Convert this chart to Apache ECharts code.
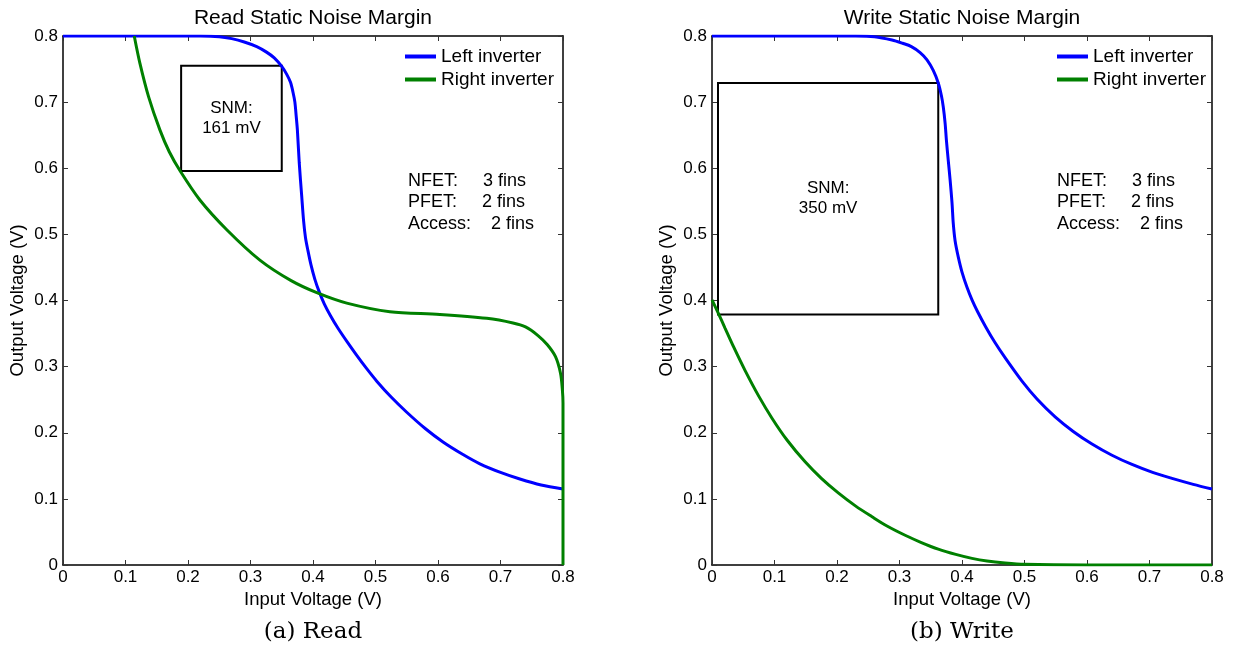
<!DOCTYPE html>
<html>
<head>
<meta charset="utf-8">
<script src="https://cdn.jsdelivr.net/npm/echarts@6/dist/echarts.min.js"></script>
<style>
  html, body { margin: 0; padding: 0; background: #fff; }
  #main { width: 1236px; height: 654px; }
</style>
</head>
<body>
<div id="main"></div>
<script>
// butterfly curves, [input V, output V]
var readLeftInv = [
  [0, 0.8], [0.22, 0.8], [0.25, 0.799], [0.27, 0.796], [0.29, 0.791], [0.31, 0.784],
  [0.325, 0.776], [0.338, 0.767], [0.35, 0.754], [0.358, 0.742], [0.364, 0.73],
  [0.368, 0.715], [0.371, 0.7], [0.373, 0.68], [0.375, 0.658], [0.378, 0.608],
  [0.382, 0.557], [0.385, 0.52], [0.388, 0.495], [0.392, 0.475], [0.397, 0.453],
  [0.403, 0.432], [0.41, 0.413], [0.418, 0.395], [0.428, 0.377], [0.44, 0.358],
  [0.455, 0.337], [0.47, 0.317], [0.485, 0.298], [0.502, 0.278], [0.525, 0.254],
  [0.55, 0.231], [0.58, 0.206], [0.608, 0.186], [0.64, 0.167], [0.667, 0.153],
  [0.7, 0.14], [0.731, 0.13], [0.765, 0.121], [0.8, 0.115]
];
var readRightInv = [
  [0.114, 0.8], [0.123, 0.759], [0.137, 0.708], [0.155, 0.658], [0.17, 0.625],
  [0.188, 0.595], [0.219, 0.552], [0.262, 0.507], [0.315, 0.461], [0.365, 0.43],
  [0.408, 0.411], [0.454, 0.396], [0.523, 0.383], [0.603, 0.379], [0.678, 0.373],
  [0.72, 0.366], [0.74, 0.36], [0.76, 0.347], [0.775, 0.333], [0.788, 0.315],
  [0.796, 0.29], [0.799, 0.265], [0.8, 0.245], [0.8, 0]
];
var writeLeftInv = [
  [0, 0.8], [0.23, 0.8], [0.26, 0.799], [0.288, 0.794], [0.305, 0.789], [0.319, 0.784],
  [0.333, 0.775], [0.344, 0.764], [0.354, 0.748], [0.362, 0.729], [0.367, 0.71],
  [0.37, 0.693], [0.373, 0.668], [0.375, 0.643], [0.378, 0.612], [0.381, 0.582],
  [0.384, 0.548], [0.386, 0.517], [0.389, 0.49], [0.394, 0.466], [0.4, 0.443],
  [0.408, 0.42], [0.416, 0.401], [0.425, 0.383], [0.438, 0.36], [0.453, 0.336],
  [0.47, 0.312], [0.496, 0.278], [0.52, 0.251], [0.549, 0.224], [0.578, 0.202],
  [0.608, 0.183], [0.64, 0.166], [0.672, 0.152], [0.705, 0.14], [0.736, 0.131],
  [0.77, 0.122], [0.8, 0.115]
];
var writeRightInv = [
  [0, 0.401], [0.01, 0.381], [0.021, 0.358], [0.035, 0.329], [0.053, 0.294],
  [0.075, 0.255], [0.096, 0.222], [0.12, 0.189], [0.149, 0.156], [0.175, 0.131],
  [0.202, 0.109], [0.23, 0.089], [0.256, 0.073], [0.28, 0.059], [0.309, 0.045],
  [0.335, 0.034], [0.362, 0.024], [0.39, 0.016], [0.416, 0.01], [0.44, 0.006],
  [0.469, 0.003], [0.5, 0.001], [0.6, 0], [0.8, 0]
];
// SNM squares: [lower-left], [upper-right]
var readSnmBox = [[0.189, 0.596], [0.35, 0.755]];
var writeSnmBox = [[0.0096, 0.379], [0.362, 0.729]];
var snmLabels = ['SNM:\n161 mV', 'SNM:\n350 mV'];
var panelTitles = ['Read Static Noise Margin', 'Write Static Noise Margin'];
var captions = ['(a) Read', '(b) Write'];
var finLines = ['NFET:     3 fins', 'PFET:     2 fins', 'Access:    2 fins'];
var seriesNames = ['Left inverter', 'Right inverter'];

var SANS = 'Liberation Sans, Arial, sans-serif';
var grids = [
  { left: 63, width: 500, top: 36, height: 529 },
  { left: 712, width: 500, top: 36, height: 529 }
];

function axisX(i, pos) {
  return {
    type: 'value', gridIndex: i, position: pos, min: 0, max: 0.8, interval: 0.1,
    name: pos === 'bottom' ? 'Input Voltage (V)' : '',
    nameLocation: 'middle', nameGap: 19,
    nameTextStyle: { fontFamily: SANS, fontSize: 18.5, color: '#000' },
    axisLine: { show: true, onZero: false, lineStyle: { color: '#000', width: 1.5 } },
    axisTick: { show: true, inside: true, length: 5, lineStyle: { color: '#333' } },
    axisLabel: { show: pos === 'bottom', fontFamily: SANS, fontSize: 17, color: '#000', margin: 4 },
    splitLine: { show: false }
  };
}
function axisY(i, pos) {
  return {
    type: 'value', gridIndex: i, position: pos, min: 0, max: 0.8, interval: 0.1,
    name: pos === 'left' ? 'Output Voltage (V)' : '',
    nameLocation: 'middle', nameGap: 36,
    nameTextStyle: { fontFamily: SANS, fontSize: 18.5, color: '#000' },
    axisLine: { show: true, onZero: false, lineStyle: { color: '#000', width: 1.5 } },
    axisTick: { show: true, inside: true, length: 5, lineStyle: { color: '#333' } },
    axisLabel: { show: pos === 'left', fontFamily: SANS, fontSize: 17, color: '#000', margin: 5 },
    splitLine: { show: false }
  };
}

function curve(name, color, data, gi, box, label) {
  var s = {
    name: name, type: 'line', xAxisIndex: gi, yAxisIndex: gi,
    data: data, symbol: 'none', smooth: 0.3, color: color,
    lineStyle: { color: color, width: 3 }, z: 3
  };
  if (box) {
    s.markArea = {
      silent: true,
      itemStyle: { color: 'rgba(0,0,0,0)', borderColor: '#000', borderWidth: 2 },
      label: {
        show: true, position: 'inside', formatter: label,
        fontFamily: SANS, fontSize: 17, lineHeight: 20, color: '#000'
      },
      data: [[{ coord: box[0] }, { coord: box[1] }]]
    };
  }
  return s;
}

function legend(left) {
  return {
    data: seriesNames, orient: 'vertical', left: left, top: 47, padding: 0,
    icon: 'rect', itemWidth: 31, itemHeight: 4, itemGap: 4, selectedMode: false,
    textStyle: { fontFamily: SANS, fontSize: 19, color: '#000' }
  };
}

function texts() {
  var g = [];
  var centers = [313, 962];
  var finLeft = [408, 1057];
  for (var i = 0; i < 2; i++) {
    g.push({ type: 'text', x: centers[i], y: 18,
      style: { text: panelTitles[i], font: '21px ' + SANS, fill: '#000', textAlign: 'center', textVerticalAlign: 'middle' } });
    g.push({ type: 'text', x: centers[i], y: 632,
      style: { text: captions[i], font: '23px DejaVu Serif, serif', fill: '#000', textAlign: 'center', textVerticalAlign: 'middle' } });
    for (var k = 0; k < finLines.length; k++) {
      g.push({ type: 'text', x: finLeft[i], y: 181 + k * 21.5,
        style: { text: finLines[k], font: '18px ' + SANS, fill: '#000', textAlign: 'left', textVerticalAlign: 'middle' } });
    }
  }
  return g;
}

var chart = echarts.init(document.getElementById('main'));
chart.setOption({
  animation: false,
  backgroundColor: '#fff',
  grid: grids,
  xAxis: [axisX(0, 'bottom'), axisX(1, 'bottom'), axisX(0, 'top'), axisX(1, 'top')],
  yAxis: [axisY(0, 'left'), axisY(1, 'left'), axisY(0, 'right'), axisY(1, 'right')],
  legend: [legend(405), legend(1057)],
  series: [
    curve(seriesNames[0], '#0000ff', readLeftInv, 0, readSnmBox, snmLabels[0]),
    curve(seriesNames[1], '#008000', readRightInv, 0),
    curve(seriesNames[0], '#0000ff', writeLeftInv, 1, writeSnmBox, snmLabels[1]),
    curve(seriesNames[1], '#008000', writeRightInv, 1)
  ],
  graphic: texts()
});
</script>
</body>
</html>
